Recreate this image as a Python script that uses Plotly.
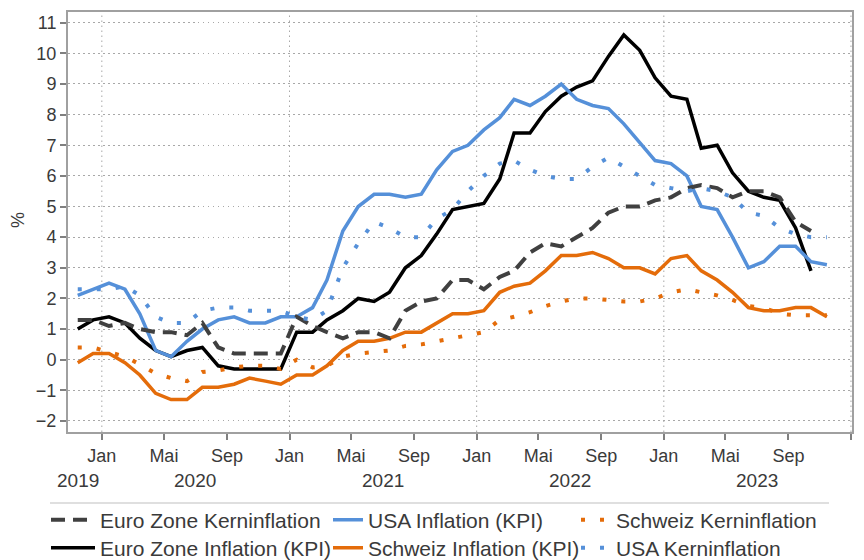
import plotly.graph_objects as go

# ---- data (monthly, Nov 2019 .. Nov 2023) ----
months = [f"{y}-{m:02d}" for y in range(2019, 2024) for m in range(1, 13)]
months = months[months.index("2019-11"):months.index("2023-11") + 1]

euro_cpi = [1.0, 1.3,
            1.4, 1.2, 0.7, 0.3, 0.1, 0.3, 0.4, -0.2, -0.3, -0.3, -0.3, -0.3,
            0.9, 0.9, 1.3, 1.6, 2.0, 1.9, 2.2, 3.0, 3.4, 4.1, 4.9, 5.0,
            5.1, 5.9, 7.4, 7.4, 8.1, 8.6, 8.9, 9.1, 9.9, 10.6, 10.1, 9.2,
            8.6, 8.5, 6.9, 7.0, 6.1, 5.5, 5.3, 5.2, 4.3, 2.9]
euro_core = [1.3, 1.3,
             1.1, 1.2, 1.0, 0.9, 0.9, 0.8, 1.2, 0.4, 0.2, 0.2, 0.2, 0.2,
             1.4, 1.1, 0.9, 0.7, 0.9, 0.9, 0.7, 1.6, 1.9, 2.0, 2.6, 2.6,
             2.3, 2.7, 2.9, 3.5, 3.8, 3.7, 4.0, 4.3, 4.8, 5.0, 5.0, 5.2,
             5.3, 5.6, 5.7, 5.6, 5.3, 5.5, 5.5, 5.3, 4.5, 4.2]
usa_cpi = [2.1, 2.3,
           2.5, 2.3, 1.5, 0.3, 0.1, 0.6, 1.0, 1.3, 1.4, 1.2, 1.2, 1.4,
           1.4, 1.7, 2.6, 4.2, 5.0, 5.4, 5.4, 5.3, 5.4, 6.2, 6.8, 7.0,
           7.5, 7.9, 8.5, 8.3, 8.6, 9.0, 8.5, 8.3, 8.2, 7.7, 7.1, 6.5,
           6.4, 6.0, 5.0, 4.9, 4.0, 3.0, 3.2, 3.7, 3.7, 3.2, 3.1]
usa_core = [2.3, 2.3,
            2.3, 2.4, 2.1, 1.4, 1.2, 1.2, 1.6, 1.7, 1.7, 1.6, 1.6, 1.6,
            1.4, 1.3, 1.6, 3.0, 3.8, 4.5, 4.3, 4.0, 4.0, 4.6, 4.9, 5.5,
            6.0, 6.4, 6.5, 6.2, 6.0, 5.9, 5.9, 6.3, 6.6, 6.3, 6.0, 5.7,
            5.6, 5.5, 5.6, 5.5, 5.3, 4.8, 4.7, 4.3, 4.1, 4.0, 4.0]
swiss_cpi = [-0.1, 0.2,
             0.2, -0.1, -0.5, -1.1, -1.3, -1.3, -0.9, -0.9, -0.8, -0.6, -0.7, -0.8,
             -0.5, -0.5, -0.2, 0.3, 0.6, 0.6, 0.7, 0.9, 0.9, 1.2, 1.5, 1.5,
             1.6, 2.2, 2.4, 2.5, 2.9, 3.4, 3.4, 3.5, 3.3, 3.0, 3.0, 2.8,
             3.3, 3.4, 2.9, 2.6, 2.2, 1.7, 1.6, 1.6, 1.7, 1.7, 1.4]
swiss_core = [0.4, 0.4,
              0.25, 0.1, -0.15, -0.45, -0.6, -0.7, -0.4, -0.35, -0.25, -0.2, -0.2, -0.3,
              0.0, -0.25, -0.2, 0.1, 0.2, 0.25, 0.3, 0.45, 0.5, 0.6, 0.7, 0.8,
              0.9, 1.3, 1.4, 1.55, 1.75, 1.9, 2.0, 2.0, 1.95, 1.9, 1.9, 2.0,
              2.2, 2.3, 2.2, 2.1, 1.95, 1.75, 1.7, 1.5, 1.45, 1.45, 1.45]

tick_vals = ["2020-01-01", "2020-05-01", "2020-09-01", "2021-01-01", "2021-05-01",
             "2021-09-01", "2022-01-01", "2022-05-01", "2022-09-01", "2023-01-01",
             "2023-05-01", "2023-09-01", "2024-01-01"]
tick_text = ["Jan", "Mai", "Sep"] * 4 + ["Jan"]
jan_vals = [v for v, t in zip(tick_vals, tick_text) if t == "Jan"]
year_labels = ["2019", "2020", "2021", "2022", "2023"]
year_pos = ["2019-11-16", "2020-07-01", "2021-07-02", "2022-07-02", "2023-07-02"]

dates = [m + "-15" for m in months]

BLUE = "#5590d9"
ORANGE = "#e46c0a"
BLACK = "#000000"
GREY = "#404040"
FONT = "Liberation Sans, Arial, sans-serif"
TXT = "#3a3a3a"
GRID = "#a8a8a8"
GRIDDASH = "1.5px,3.5px"
DOT = "4px,15px"
DASH = "14px,8px"

# page geometry (the page body has an 8px margin)
OFF = 8
W, H = 864 - OFF, 560 - OFF
PL, PR, PT, PB = 68, 852, 12, 432          # plot area in page pixels
L, R, T, B = PL - OFF, OFF + W - PR, PT - OFF, OFF + H - PB


def px_x(p):
    return (p - PL) / (PR - PL)


def px_y(p):
    return (PB - p) / (PB - PT)


def cx(p):
    return (p - OFF) / W


def cy(p):
    return 1 - (p - OFF) / H


# legend slots: (text start x, row centre y, symbol item width) in page pixels
legend_slots = {"legend": (101, 520, 44), "legend2": (369, 520, 30),
                "legend3": (617, 520, 30),
                "legend4": (101, 548, 44), "legend5": (369, 548, 30),
                "legend6": (617, 548, 30)}

fig = go.Figure()


def add(name, y, color, dash, legend, width=3.5):
    fig.add_trace(go.Scatter(
        x=dates[:len(y)], y=y, name=name, mode="lines",
        line=dict(color=color, width=width, dash=dash),
        legend=legend, hoverinfo="skip"))


# draw order
add("Euro Zone Inflation (KPI)", euro_cpi, BLACK, "solid", "legend4")
add("USA Inflation (KPI)", usa_cpi, BLUE, "solid", "legend2")
add("Schweiz Inflation (KPI)", swiss_cpi, ORANGE, "solid", "legend5")
add("Euro Zone Kerninflation", euro_core, GREY, DASH, "legend", 4)
add("USA Kerninflation", usa_core, BLUE, DOT, "legend6", 4)
add("Schweiz Kerninflation", swiss_core, ORANGE, DOT, "legend3", 4)

legends = {}
for key, (tx, ty, iw) in legend_slots.items():
    legends[key] = dict(orientation="v", xref="container", yref="container",
                        xanchor="left", yanchor="middle",
                        x=cx(tx - iw - 11), y=cy(ty),
                        font=dict(family=FONT, size=21, color=TXT),
                        itemwidth=iw, bgcolor="rgba(0,0,0,0)")

xr = ["2019-10-27", "2024-01-03"]

fig.update_layout(
    width=W, height=H,
    margin=dict(l=L, r=R, t=T, b=B, autoexpand=False),
    paper_bgcolor="white", plot_bgcolor="white",
    font=dict(family=FONT, size=18, color=TXT),
    showlegend=True,
    **legends,
    xaxis=dict(type="date", range=xr, tickvals=tick_vals, ticktext=tick_text,
               ticks="outside", ticklen=6, tickwidth=1.5, tickcolor="#808080",
               showgrid=False, showline=True, linecolor="#a0a0a0", linewidth=2,
               mirror=True, zeroline=False,
               tickfont=dict(family=FONT, size=18, color=TXT)),
    yaxis=dict(range=[-2.36, 11.35], dtick=1, tick0=0, ticks="outside", ticklen=6,
               tickwidth=1.5, tickcolor="#808080",
               showgrid=True, gridcolor=GRID, gridwidth=1, griddash=GRIDDASH,
               showline=True, linecolor="#a0a0a0", linewidth=2, mirror=True,
               zeroline=False, tickfont=dict(family=FONT, size=18, color=TXT)),
)

# vertical grid lines at every January tick
for v in jan_vals:
    fig.add_shape(type="line", xref="x", yref="paper", x0=v, x1=v, y0=0, y1=1,
                  layer="below", line=dict(color=GRID, width=1, dash=GRIDDASH))

annotations = [dict(text="%", x=px_x(18), y=px_y(220), xref="paper", yref="paper",
                    textangle=-90, showarrow=False, xanchor="center", yanchor="middle",
                    font=dict(family=FONT, size=18, color=TXT))]
for lab, pos in zip(year_labels, year_pos):
    annotations.append(dict(text=lab, x=pos, y=px_y(480), xref="x", yref="paper",
                            showarrow=False, xanchor="center", yanchor="middle",
                            font=dict(family=FONT, size=19, color=TXT)))
fig.update_layout(annotations=annotations)

fig.add_shape(type="line", xref="paper", yref="paper",
              x0=px_x(50), x1=px_x(829), y0=px_y(503), y1=px_y(503),
              line=dict(color="#d4d4d4", width=1.5))

fig.write_html("out.html")
